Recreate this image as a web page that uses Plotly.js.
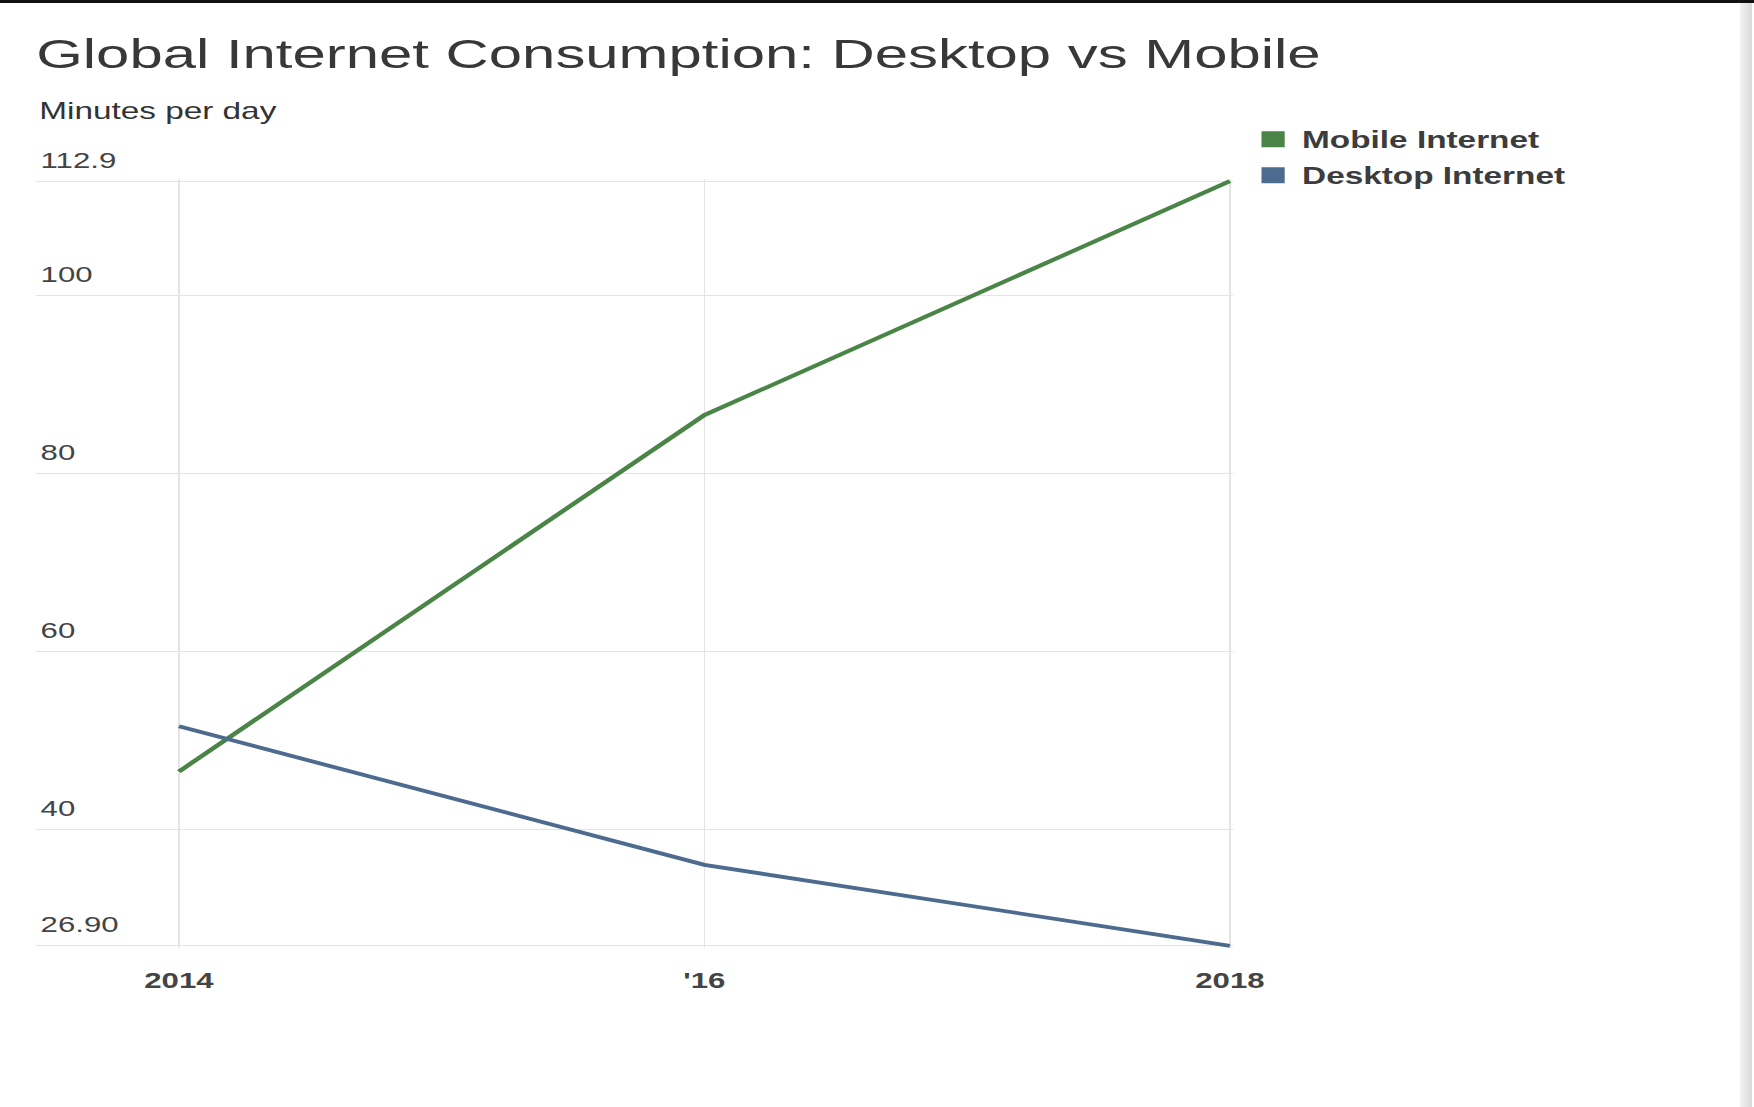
<!DOCTYPE html>
<html>
<head>
<meta charset="utf-8">
<script src="https://cdn.plot.ly/plotly-3.0.1.min.js"></script>
<style>
  html, body { margin: 0; padding: 0; background: #ffffff; }
  #frame { position: absolute; left: 0; top: 0; width: 1754px; height: 1107px; overflow: hidden; background: #ffffff; }
  #topbar { position: absolute; left: 0; top: 0; width: 1754px; height: 3px; background: #111111; }
  #rightbar { position: absolute; left: 1740px; top: 3px; width: 12px; height: 1104px; background: linear-gradient(to right, #f2f2f2, #dadada); }
  #chart { position: absolute; left: 0; top: 0; width: 1210px; height: 1107px; transform: scaleX(1.45); transform-origin: 0 0; }
</style>
</head>
<body>
<div id="frame">
  <div id="chart"></div>
  <div id="topbar"></div>
  <div id="rightbar"></div>
</div>
<script>
// ---- data ----
const years = [2014, 2016, 2018];
const xTickLabels = ["2014", "'16", "2018"];
const mobileInternet = [46.5, 86.6, 112.9];
const desktopInternet = [51.6, 36.0, 26.9];
const yTickValues = [26.9, 40, 60, 80, 100, 112.9];
const yTickLabels = ["26.90", "40", "60", "80", "100", "112.9"];
const seriesNames = ["Mobile Internet", "Desktop Internet"];
const chartTitle = "Global Internet Consumption: Desktop vs Mobile";
const unitLabel = "Minutes per day";

const green = "#4a8547";
const blue = "#4d6b8f";
const font = "Liberation Sans, Arial, sans-serif";

const traces = [
  { x: years, y: mobileInternet, type: "scatter", mode: "lines", name: seriesNames[0],
    line: { color: green, width: 3.8 }, showlegend: false, hoverinfo: "skip" },
  { x: years, y: desktopInternet, type: "scatter", mode: "lines", name: seriesNames[1],
    line: { color: blue, width: 3.8 }, showlegend: false, hoverinfo: "skip" },
  { x: [null], y: [null], type: "scatter", mode: "markers", name: seriesNames[0],
    legendgroup: "m", marker: { color: green, symbol: "square", size: 16 }, showlegend: true },
  { x: [null], y: [null], type: "scatter", mode: "markers", name: seriesNames[1],
    legendgroup: "d", marker: { color: blue, symbol: "square", size: 16 }, showlegend: true }
];

const layout = {
  width: 1210, height: 1107,
  margin: { l: 25, r: 360, t: 179, b: 159, pad: 0 },
  paper_bgcolor: "rgba(0,0,0,0)",
  plot_bgcolor: "rgba(0,0,0,0)",
  font: { family: font, color: "#3c3c3c" },
  title: {
    text: chartTitle,
    font: { family: font, size: 41.3, color: "#383838" },
    xref: "paper", x: 0, xanchor: "left",
    yref: "container", y: 0.9512, yanchor: "middle"
  },
  xaxis: {
    range: [2013.457, 2018.01],
    tickmode: "array", tickvals: years, ticktext: xTickLabels,
    showgrid: true, gridcolor: "#e4e4e4", gridwidth: 1,
    zeroline: false, showline: false, ticks: "",
    ticklabelstandoff: 18,
    tickfont: { family: font, size: 21.5, color: "#444444", weight: "bold" }
  },
  yaxis: {
    range: [26.65, 113.15],
    tickmode: "array", tickvals: yTickValues, ticktext: yTickLabels,
    showgrid: true, gridcolor: "#e4e4e4", gridwidth: 1,
    zeroline: false, showline: false, ticks: "",
    ticklabelposition: "inside",
    ticklabeloverflow: "allow",
    ticklabelshift: -21,
    ticklabelstandoff: 0,
    tickfont: { family: font, size: 21.5, color: "#444444" }
  },
  legend: {
    x: 1.0097, xanchor: "left", y: 1.0796, yanchor: "top",
    bgcolor: "rgba(0,0,0,0)",
    traceorder: "grouped", tracegroupgap: 3,
    font: { family: font, size: 23, color: "#3c3c3c", weight: "bold" }
  },
  annotations: [
    { text: unitLabel, xref: "paper", yref: "paper", x: 0, y: 1.089,
      xanchor: "left", yanchor: "middle", showarrow: false,
      font: { family: font, size: 23, color: "#333333" } }
  ]
};

Plotly.newPlot("chart", traces, layout, { staticPlot: true, displayModeBar: false });
</script>
</body>
</html>
